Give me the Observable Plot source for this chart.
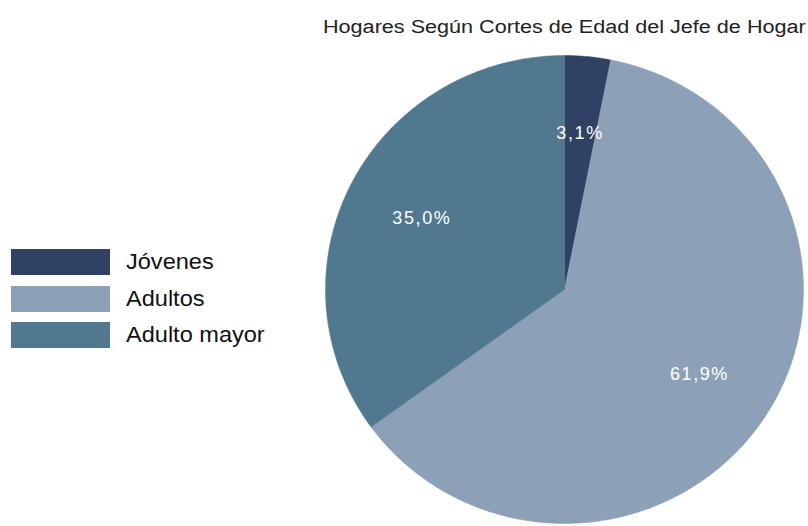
<!DOCTYPE html>
<html>
<head>
<meta charset="utf-8">
<script src="https://cdn.jsdelivr.net/npm/d3@7"></script>
<script src="https://cdn.jsdelivr.net/npm/@observablehq/plot@0.6"></script>
<style>
  html, body { margin: 0; padding: 0; background: #fff; }
  body { width: 808px; height: 526px; position: relative; overflow: hidden; font-family: "Liberation Sans", Arial, sans-serif; }
  #chart { position: absolute; left: 0; top: 0; }
  #chart g[aria-label="text"] text { letter-spacing: 1.6px; }
  #title { position: absolute; left: 323px; top: 17px; font-size: 18px; color: #222; white-space: nowrap; transform: scaleX(1.2); transform-origin: 0 0; }
  #legend { position: absolute; left: 11px; top: 244px; }
  .item { display: flex; align-items: center; height: 36.5px; }
  .sw { width: 99px; height: 26px; margin-right: 16px; }
  .lab { font-size: 22px; color: #111; transform: scaleX(1.07); transform-origin: 0 50%; white-space: nowrap; }
</style>
</head>
<body>
<div id="chart"></div>
<div id="title">Hogares Según Cortes de Edad del Jefe de Hogar</div>
<div id="legend"></div>
<script>
const categories = ["Jóvenes", "Adultos", "Adulto mayor"];
const values = [3.1, 61.9, 35.0];
const labels = ["3,1%", "61,9%", "35,0%"];

const palette = ["#2f4264", "#8ca1b7", "#50798f"];

const pieGen = d3.pie().sort(null).value(d => d.value);
const rows = categories.map((c, i) => ({category: c, value: values[i], label: labels[i]}));
const arcs = pieGen(rows);

// polygon outline for each slice (center, arc, center), in unit coordinates
const pts = [];
arcs.forEach(a => {
  const n = Math.max(4, Math.ceil((a.endAngle - a.startAngle) / 0.01));
  pts.push({category: a.data.category, x: 0, y: 0});
  for (let k = 0; k <= n; k++) {
    const t = a.startAngle + (a.endAngle - a.startAngle) * k / n;
    pts.push({category: a.data.category, x: Math.sin(t), y: Math.cos(t)});
  }
  pts.push({category: a.data.category, x: 0, y: 0});
});

const labelPts = arcs.map(a => {
  const m = (a.startAngle + a.endAngle) / 2;
  return {label: a.data.label, x: 0.67 * Math.sin(m), y: 0.67 * Math.cos(m)};
});

const chart = Plot.plot({
  width: 808,
  height: 526,
  margin: 0,
  x: {domain: [-1, 1], range: [325, 803], axis: null},
  y: {domain: [-1, 1], range: [523, 55], axis: null},
  color: {domain: categories, range: palette},
  style: {fontFamily: "'Liberation Sans', Arial, sans-serif", background: "transparent"},
  marks: [
    Plot.line(pts, {x: "x", y: "y", z: "category", fill: "category", stroke: "category", strokeWidth: 0.5, curve: "linear"}),
    Plot.text(labelPts, {x: "x", y: "y", text: "label", fill: "white", fontSize: 18})
  ]
});
document.getElementById("chart").appendChild(chart);

const legend = document.getElementById("legend");
categories.forEach((c, i) => {
  const item = document.createElement("div");
  item.className = "item";
  const sw = document.createElement("div");
  sw.className = "sw";
  sw.style.background = palette[i];
  const lab = document.createElement("div");
  lab.className = "lab";
  lab.textContent = c;
  item.appendChild(sw);
  item.appendChild(lab);
  legend.appendChild(item);
});
</script>
</body>
</html>
